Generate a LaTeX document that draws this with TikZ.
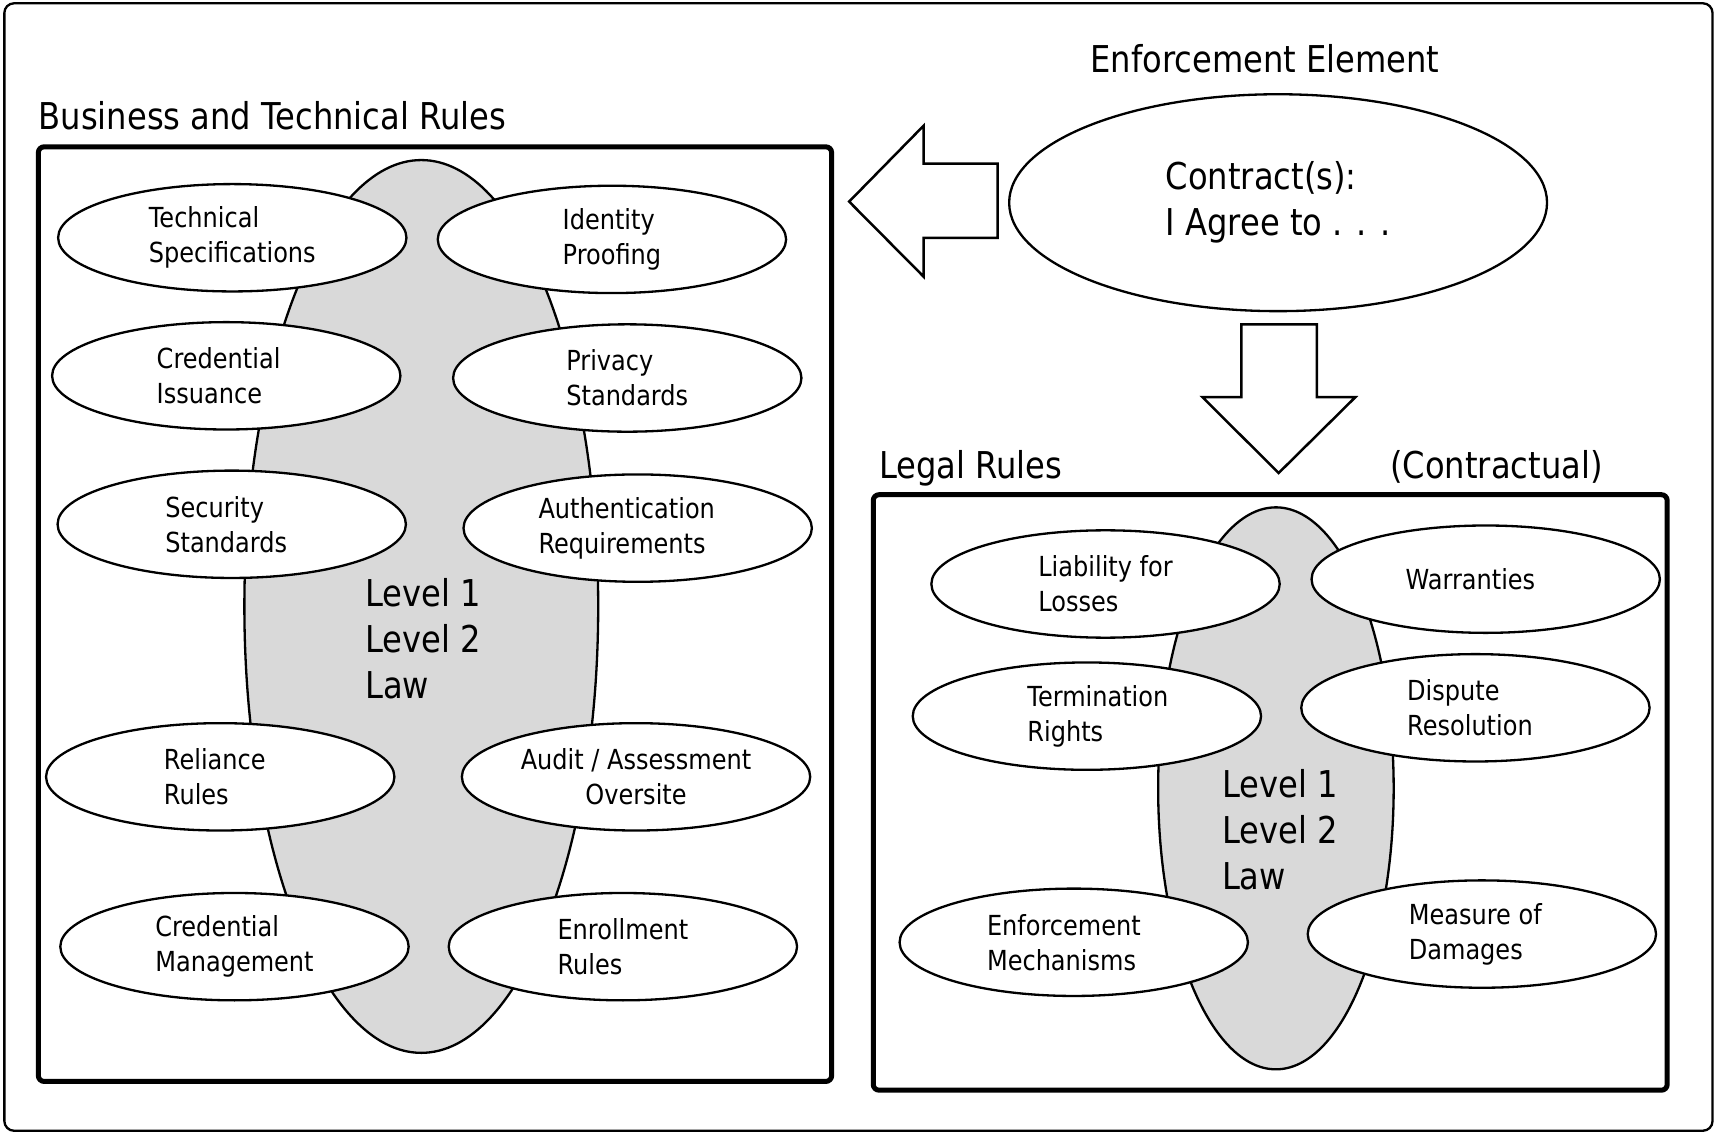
\documentclass[tikz,border=0pt]{standalone}
\usepackage{fontspec}
\setmainfont{DejaVu Sans}[FakeStretch=0.87]
\usetikzlibrary{shapes.geometric}
\definecolor{corefill}{gray}{0.85}

\begin{document}
\begin{tikzpicture}[x=0.02cm, y=-0.02cm,
    oval/.style={ellipse, draw, line width=1.2pt, fill=white, minimum width=6.36cm,
        minimum height=1.96cm, inner sep=0pt, align=left, font=\fontsize{14.35}{18.1}\selectfont},
    ovallabel/.style={inner sep=0pt, align=left, font=\fontsize{14.35}{18.1}\selectfont},
    core/.style={ellipse, draw, line width=1.2pt, fill=corefill, inner sep=0pt},
    rulebox/.style={draw, line width=2.6pt, rounded corners=3pt},
    title/.style={inner sep=0pt, font=\fontsize{19.2}{23.8}\selectfont},
    levels/.style={anchor=west, inner sep=0pt, align=left, font=\fontsize{19.2}{23.8}\selectfont},
    bigarrow/.style={draw, line width=1.3pt, fill=white, line join=miter}]

    % Ramka zewnetrzna
    \useasboundingbox (0,0) rectangle (1568,1038);
    \draw[line width=1.2pt, rounded corners=5pt] (4,3) rectangle (1563,1032);

    % Element egzekwujacy
    \node[title, anchor=base] (enftitle) at (1154.5,65.8) {Enforcement Element};
    \node[ellipse, draw, line width=1.2pt, minimum width=9.82cm, minimum height=3.96cm,
        inner sep=0pt, align=left, font=\fontsize{19.2}{23.8}\selectfont]
        (contract) at (1166.5,185) {Contract(s):\\I Agree to . . .};

    % Strzalki blokowe
    \draw[bigarrow] (775,184) -- (843,114.7) -- (843,149.4) -- (910.5,149.4)
        -- (910.5,217) -- (843,217) -- (843,252.5) -- cycle;
    \draw[bigarrow] (1133,296) -- (1201.8,296) -- (1201.8,362.5) -- (1237,362.5)
        -- (1167,431.7) -- (1097.5,362.5) -- (1133,362.5) -- cycle;

    % Reguly biznesowe i techniczne
    \node[title, anchor=base west] (biztitle) at (35,118.6) {Business and Technical Rules};
    \draw[rulebox] (35,134) rectangle (759,987);
    \node[core, minimum width=6.46cm, minimum height=16.3cm] (bizcore) at (384.5,553.5) {};
    \node[oval] (techspec) at (212,217) {Technical\\Specifications};
    \node[oval] (idproof) at (558.5,218.5) {Identity\\Proofing};
    \node[oval, label={[ovallabel, xshift=-0.14cm]center:{Credential\\Issuance}}]
        (crediss) at (206.5,343) {};
    \node[oval] (privacy) at (572.5,345) {Privacy\\Standards};
    \node[oval, label={[ovallabel, xshift=-0.1cm]center:{Security\\Standards}}]
        (security) at (211.5,478.5) {};
    \node[oval, label={[ovallabel, xshift=-0.2cm]center:{Authentication\\Requirements}}]
        (authreq) at (582,482) {};
    \node[oval, label={[ovallabel, xshift=-0.1cm]center:{Reliance\\Rules}}]
        (reliance) at (201,709) {};
    \node[oval, align=center] (audit) at (580.5,709) {Audit / Assessment\\Oversite};
    \node[oval] (credmgmt) at (214,864) {Credential\\Management};
    \node[oval] (enroll) at (568.5,864) {Enrollment\\Rules};
    \node[levels] (bizlevels) at (333,583) {Level 1\\Level 2\\Law};

    % Reguly prawne
    \node[title, anchor=base west] (legaltitle) at (802,437) {Legal Rules};
    \node[title, anchor=base east] (contractual) at (1463,437) {(Contractual)};
    \draw[rulebox] (797,451.5) rectangle (1521.6,995);
    \node[core, minimum width=4.3cm, minimum height=10.26cm] (legalcore) at (1164.5,719.5) {};
    \node[oval] (liability) at (1009,533) {Liability for\\Losses};
    \node[oval, label={[ovallabel, xshift=-0.28cm]center:{Warranties}}]
        (warranty) at (1356,528.6) {};
    \node[oval, label={[ovallabel, xshift=0.2cm]center:{Termination\\Rights}}]
        (termination) at (992,653.6) {};
    \node[oval, label={[ovallabel, xshift=-0.1cm]center:{Dispute\\Resolution}}]
        (dispute) at (1346.6,646) {};
    \node[oval, label={[ovallabel, xshift=-0.18cm]center:{Enforcement\\Mechanisms}}]
        (enfmech) at (980,860) {};
    \node[oval, label={[ovallabel, xshift=-0.12cm]center:{Measure of\\Damages}}]
        (damages) at (1352.5,852.5) {};
    \node[levels] (legallevels) at (1115,757) {Level 1\\Level 2\\Law};
\end{tikzpicture}
\end{document}
